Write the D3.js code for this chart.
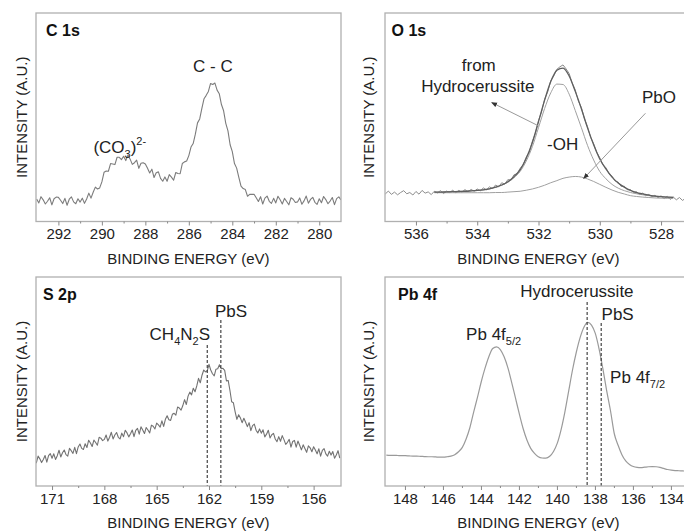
<!DOCTYPE html>
<html>
<head>
<meta charset="utf-8">
<script src="https://cdn.jsdelivr.net/npm/d3@7"></script>
<style>
body{margin:0;background:#fff;}
svg{display:block;font-family:"Liberation Sans",Arial,sans-serif;}
</style>
</head>
<body>
<script>
///// spectra (intensity in arbitrary units, 0-100 of frame height) /////
var c1sStart = 293.0, c1sStep = 0.1;
var c1sIntensity = [
  10.8, 8.9, 11.9, 10.4, 8.4, 9.7, 11.4, 8.0, 10.9, 11.7,
  11.6, 10.2, 8.6, 11.1, 7.8, 10.7, 11.8, 9.4, 8.5, 10.9,
  9.3, 11.2, 8.7, 10.8, 13.6, 11.2, 14.0, 16.5, 15.6, 16.1,
  19.0, 23.6, 24.2, 24.1, 27.8, 27.6, 27.3, 30.8, 30.8, 29.7,
  31.3, 29.2, 31.9, 29.9, 27.4, 28.2, 29.4, 25.5, 27.9, 28.2,
  27.6, 25.5, 23.3, 25.1, 21.1, 23.4, 23.8, 20.7, 19.3, 21.4,
  19.3, 22.5, 21.3, 19.8, 23.5, 23.0, 22.9, 27.8, 28.6, 29.0,
  31.6, 35.7, 37.4, 41.9, 47.3, 49.2, 54.3, 58.9, 60.5, 62.4,
  66.2, 65.7, 66.4, 63.0, 61.3, 56.1, 53.1, 47.1, 43.5, 36.8,
  33.5, 27.8, 25.6, 21.2, 17.0, 15.8, 15.3, 12.1, 13.0, 13.0,
  13.1, 11.4, 9.6, 11.9, 8.4, 11.2, 12.2, 9.7, 8.7, 11.1,
  8.9, 12.1, 10.4, 8.4, 11.1, 9.6, 8.0, 11.4, 10.7, 9.1,
  9.4, 11.3, 8.3, 9.9, 12.2, 8.8, 10.6, 11.6, 9.2, 8.2,
  10.9, 9.0, 12.0, 10.5, 8.5, 9.8, 11.5, 8.1, 11.0, 11.8,
  10.4
];

var o1sStart = 537.0, o1sStep = 0.1;
var o1sIntensity = [
  13.2, 14.6, 13.0, 14.1, 12.8, 13.9, 14.8, 13.3, 13.9, 12.7,
  14.4, 13.1, 14.9, 13.6, 14.2, 12.9, 14.5, 13.7, 14.8, 13.4,
  14.6, 13.9, 15.0, 13.8, 14.9, 14.0, 15.3, 14.2, 15.4, 14.5,
  15.6, 14.7, 16.1, 15.2, 16.6, 15.8, 17.5, 16.6, 18.6, 17.9,
  20.1, 19.8, 22.4, 22.9, 25.5, 27.1, 30.9, 33.2, 38.4, 42.3,
  48.4, 52.6, 58.7, 62.1, 67.5, 69.8, 73.0, 74.2, 75.1, 73.2,
  71.0, 66.4, 63.1, 57.8, 54.6, 49.2, 45.5, 40.4, 37.3, 33.2,
  30.6, 27.3, 25.8, 22.9, 21.8, 19.4, 18.9, 16.8, 16.9, 15.2,
  15.3, 13.9, 14.3, 12.9, 13.6, 12.3, 13.0, 11.8, 12.6, 11.4,
  12.3, 11.0, 12.1, 10.6, 11.7, 10.4, 11.5, 10.1, 11.2
];

// fitted curves of the O 1s peak
var o1sFitStart = 535.4, o1sFitStep = 0.2;
var o1sEnvelope = [
  14.1, 14.1, 14.2, 14.3, 14.4, 14.5, 14.7, 14.9, 15.2, 15.7,
  16.5, 17.5, 19.1, 21.5, 24.8, 30.3, 37.9, 47.9, 58.2, 67.1,
  72.5, 73.6, 69.8, 62.4, 54.1, 44.9, 36.8, 30.0, 25.2, 21.3,
  18.5, 16.5, 14.9, 13.9, 13.2, 12.6, 12.2, 11.9, 11.7, 11.6
];
var o1sHydroxide = [
  14.1, 14.1, 14.2, 14.3, 14.4, 14.5, 14.7, 14.9, 15.2, 15.7,
  16.4, 17.4, 18.8, 21.0, 24.0, 29.0, 35.9, 45.0, 54.2, 61.7,
  65.9, 65.7, 61.1, 53.2, 45.0, 36.5, 29.5, 24.0, 20.5, 17.8,
  16.0, 14.8, 13.9, 13.3, 12.8, 12.4, 12.1, 11.9, 11.7, 11.6
];
var o1sPbO = [
  13.8, 13.8, 13.8, 13.8, 13.8, 13.8, 13.8, 13.8, 13.8, 13.8,
  13.9, 13.9, 14.1, 14.3, 14.5, 15.0, 15.6, 16.4, 17.4, 18.6,
  19.6, 20.7, 21.3, 21.6, 21.3, 20.4, 19.2, 17.8, 16.4, 15.1,
  14.0, 13.2, 12.4, 12.0, 11.7, 11.5, 11.3, 11.2, 11.1, 11.1
];

var s2pStart = 172.0, s2pStep = 0.1;
var s2pIntensity = [
  12.8, 11.1, 14.3, 13.0, 11.2, 12.7, 14.6, 11.4, 14.5, 15.5,
  13.3, 15.4, 12.7, 14.5, 17.1, 13.9, 15.9, 17.2, 15.0, 14.3,
  18.0, 16.9, 15.6, 18.5, 15.5, 18.7, 20.1, 18.0, 17.5, 20.2,
  18.4, 21.9, 20.6, 18.9, 22.0, 20.8, 19.5, 23.3, 22.9, 21.7,
  22.3, 24.4, 21.5, 23.3, 25.7, 22.5, 24.4, 25.6, 23.3, 22.5,
  25.3, 23.6, 26.7, 25.4, 23.5, 25.0, 26.8, 23.6, 26.6, 27.6,
  24.8, 28.3, 26.8, 25.1, 28.0, 26.8, 25.4, 29.1, 28.6, 27.3,
  30.1, 29.2, 28.2, 31.2, 28.5, 31.9, 33.6, 31.7, 31.4, 34.3,
  34.8, 33.9, 37.8, 37.3, 36.3, 38.5, 41.3, 39.0, 43.0, 44.9,
  43.6, 46.8, 45.1, 47.9, 51.5, 49.4, 53.0, 55.5, 54.6, 55.1,
  58.2, 55.5, 53.7, 52.7, 55.9, 56.1, 58.0, 56.1, 56.3, 55.3,
  50.3, 50.5, 45.8, 40.3, 39.8, 35.5, 31.9, 34.1, 32.6, 30.3,
  32.4, 30.5, 28.4, 30.3, 26.5, 28.9, 29.6, 26.7, 25.4, 27.3,
  25.3, 26.9, 23.5, 24.8, 26.7, 23.0, 24.5, 25.2, 22.5, 21.2,
  23.6, 21.4, 24.1, 22.2, 19.9, 20.9, 22.3, 18.6, 21.3, 21.8,
  18.6, 21.5, 19.5, 17.3, 19.7, 17.9, 16.1, 19.2, 18.3, 16.4,
  18.8, 17.2, 15.4, 17.8, 14.3, 17.0, 17.9, 15.4, 14.3, 16.6,
  14.8, 16.5, 13.3, 14.8, 16.9, 13.3
];

var pb4fStart = 148.98, pb4fStep = 0.2;
var pb4fIntensity = [
  14.8, 14.7, 14.7, 14.6, 14.5, 14.5, 14.4, 14.3, 14.3, 14.2,
  14.1, 14.0, 14.0, 13.9, 13.8, 13.8, 14.0, 14.3, 15.0, 16.4,
  18.5, 22.5, 28.0, 35.5, 42.5, 50.0, 56.5, 62.0, 65.8, 66.6,
  65.3, 61.8, 56.5, 49.5, 42.0, 34.5, 27.5, 22.0, 18.0, 15.6,
  14.0, 13.4, 13.3, 14.2, 16.5, 20.5, 27.0, 35.5, 45.5, 55.5,
  64.0, 71.0, 76.0, 78.3, 77.0, 73.0, 65.5, 56.0, 45.5, 36.0,
  25.0, 19.5, 15.0, 12.0, 10.3, 9.3, 8.9, 8.8, 9.0, 9.2,
  9.3, 9.2, 8.9, 8.4, 7.9, 7.6, 7.4, 7.3, 7.2, 7.1
];

///// axes /////
var c1sTicks = [292, 290, 288, 286, 284, 282, 280];
var c1sMinor = [291, 289, 287, 285, 283, 281];
var o1sTicks = [536, 534, 532, 530, 528];
var o1sMinor = [535, 533, 531, 529];
var s2pTicks = [171, 168, 165, 162, 159, 156];
var s2pMinor = [169.5, 166.5, 163.5, 160.5, 157.5];
var pb4fTicks = [148, 146, 144, 142, 140, 138, 136, 134];
var pb4fMinor = [147, 145, 143, 141, 139, 137, 135];

// reference energies marked with dashed lines
var s2pMarkers = [162.1, 161.32];
var pb4fMarkers = [138.41, 137.67];

var width = 684, height = 531;
var svg = d3.select("body").append("svg").attr("width", width).attr("height", height);
var defs = svg.append("defs");
defs.append("marker").attr("id", "arrow")
  .attr("viewBox", "0 0 6 6").attr("refX", 5).attr("refY", 3)
  .attr("markerWidth", 6).attr("markerHeight", 6).attr("orient", "auto")
  .append("path").attr("d", "M0,0.6L6,3L0,5.4z").attr("fill", "#333");

function toPoints(start, step, vals) {
  return vals.map(function (v, i) { return [start - i * step, v]; });
}

function label(g, xp, yp, anchor, parts) {
  var t = g.append("text").attr("x", xp).attr("y", yp)
    .attr("text-anchor", anchor).attr("font-size", 17).attr("fill", "#222");
  var shift = 0;
  parts.forEach(function (pt) {
    var target = pt[1] === "sub" ? 5 : pt[1] === "sup" ? -8 : 0;
    t.append("tspan").attr("dy", target - shift).attr("font-size", pt[1] ? 11 : 17).text(pt[0]);
    shift = target;
  });
  return t;
}

function drawPanel(p) {
  var x = d3.scaleLinear().domain(p.domain).range([p.left, p.right]);
  var y = d3.scaleLinear().domain([0, 100]).range([p.bottom, p.top]);
  var g = svg.append("g");

  defs.append("clipPath").attr("id", "clip-" + p.id).append("rect")
    .attr("x", p.left).attr("y", p.top).attr("width", p.right - p.left).attr("height", p.bottom - p.top);

  var line = d3.line().x(function (d) { return x(d[0]); }).y(function (d) { return y(d[1]); });
  var plot = g.append("g").attr("clip-path", "url(#clip-" + p.id + ")");
  p.series.forEach(function (s) {
    plot.append("path").datum(s.points)
      .attr("fill", "none").attr("stroke", s.color).attr("stroke-width", s.width)
      .attr("stroke-linejoin", "round")
      .attr("d", line.curve(s.smooth ? d3.curveMonotoneX : d3.curveLinear));
  });

  (p.markers || []).forEach(function (m, i) {
    g.append("line")
      .attr("x1", x(m)).attr("x2", x(m))
      .attr("y1", y(p.markerTops[i])).attr("y2", p.bottom)
      .attr("stroke", "#333").attr("stroke-width", 1.1).attr("stroke-dasharray", "3,2");
  });

  // frame
  g.append("rect").attr("x", p.left).attr("y", p.top)
    .attr("width", p.right - p.left).attr("height", p.bottom - p.top)
    .attr("fill", "none").attr("stroke", "#b0b0b0").attr("stroke-width", 1.3);

  var ax = g.append("g").attr("transform", "translate(0," + p.bottom + ")")
    .call(d3.axisBottom(x).tickValues(p.ticks).tickSize(4).tickPadding(3).tickFormat(d3.format("d")));
  ax.select(".domain").remove();
  ax.attr("font-size", 15).attr("font-family", null);
  ax.selectAll("text").attr("fill", "#222");
  ax.selectAll("line").attr("stroke", "#888");
  var mx = g.append("g").attr("transform", "translate(0," + p.bottom + ")")
    .call(d3.axisBottom(x).tickValues(p.minor).tickSize(2).tickFormat(""));
  mx.select(".domain").remove();
  mx.selectAll("line").attr("stroke", "#888");

  g.append("text").attr("x", p.titleX).attr("y", p.bottom + 42)
    .attr("text-anchor", "middle").attr("font-size", 15).attr("fill", "#222")
    .text("BINDING ENERGY (eV)");
  g.append("text")
    .attr("transform", "translate(" + p.yTitleX + "," + (p.top + p.bottom) / 2 + ") rotate(-90)")
    .attr("text-anchor", "middle").attr("dy", "0.35em")
    .attr("font-size", 15).attr("fill", "#222")
    .text("INTENSITY (A.U.)");
  g.append("text").attr("x", p.left + p.nameDx).attr("y", p.top + 23)
    .attr("font-size", 16).attr("font-weight", "bold").attr("fill", "#111")
    .text(p.name);

  p.annotate(g, x, y);
}

var panels = [
  {
    id: "c1s", name: "C 1s", left: 36, right: 341, top: 13, bottom: 221.5,
    domain: [293.03, 279.0], ticks: c1sTicks, minor: c1sMinor,
    titleX: 188.5, yTitleX: 21.7, nameDx: 10,
    series: [{ points: toPoints(c1sStart, c1sStep, c1sIntensity), color: "#7c7c7c", width: 1.1 }],
    annotate: function (g, x, y) {
      label(g, x(284.89), y(71.8), "middle", [["C - C", ""]]);
      label(g, x(290.39), y(32.7), "start", [["(CO", ""], ["3", "sub"], [")", ""], ["2-", "sup"]]);
    }
  },
  {
    id: "o1s", name: "O 1s", left: 385, right: 692, top: 13, bottom: 221.5,
    domain: [537.01, 526.99], ticks: o1sTicks, minor: o1sMinor,
    titleX: 538.5, yTitleX: 368.7, nameDx: 6.5,
    series: [
      { points: toPoints(o1sStart, o1sStep, o1sIntensity), color: "#8c8c8c", width: 1 },
      { points: toPoints(o1sFitStart, o1sFitStep, o1sPbO), color: "#a0a0a0", width: 1, smooth: true },
      { points: toPoints(o1sFitStart, o1sFitStep, o1sHydroxide), color: "#a0a0a0", width: 1, smooth: true },
      { points: toPoints(o1sFitStart, o1sFitStep, o1sEnvelope), color: "#5e5e5e", width: 1.3, smooth: true }
    ],
    annotate: function (g, x, y) {
      label(g, x(533.95), y(72.3), "middle", [["from", ""]]);
      label(g, x(533.98), y(62.3), "middle", [["Hydrocerussite", ""]]);
      label(g, x(531.21), y(34.3), "middle", [["-OH", ""]]);
      label(g, x(528.07), y(56.7), "middle", [["PbO", ""]]);
      g.append("line").attr("x1", x(531.99)).attr("y1", y(45.8)).attr("x2", x(533.52)).attr("y2", y(57.0))
        .attr("stroke", "#999").attr("stroke-width", 1).attr("marker-end", "url(#arrow)");
      g.append("line").attr("x1", x(528.51)).attr("y1", y(51.9)).attr("x2", x(530.52)).attr("y2", y(20.7))
        .attr("stroke", "#999").attr("stroke-width", 1).attr("marker-end", "url(#arrow)");
    }
  },
  {
    id: "s2p", name: "S 2p", left: 36, right: 341, top: 277, bottom: 486,
    domain: [171.92, 154.43], ticks: s2pTicks, minor: s2pMinor,
    titleX: 188.5, yTitleX: 21.7, nameDx: 7,
    markers: s2pMarkers, markerTops: [67.5, 79.4],
    series: [{ points: toPoints(s2pStart, s2pStep, s2pIntensity), color: "#727272", width: 1.1 }],
    annotate: function (g, x, y) {
      label(g, x(161.94), y(69.9), "end", [["CH", ""], ["4", "sub"], ["N", ""], ["2", "sub"], ["S", ""]]);
      label(g, x(161.66), y(81), "start", [["PbS", ""]]);
    }
  },
  {
    id: "pb4f", name: "Pb 4f", left: 385, right: 692, top: 277, bottom: 486,
    domain: [149.05, 132.89], ticks: pb4fTicks, minor: pb4fMinor,
    titleX: 538.5, yTitleX: 368.7, nameDx: 13,
    markers: pb4fMarkers, markerTops: [88, 78],
    series: [{ points: toPoints(pb4fStart, pb4fStep, pb4fIntensity), color: "#9a9a9a", width: 1.2, smooth: true }],
    annotate: function (g, x, y) {
      label(g, x(138.95), y(90.6), "middle", [["Hydrocerussite", ""]]);
      label(g, x(137.65), y(79.4), "start", [["PbS", ""]]);
      label(g, x(144.78), y(69.9), "start", [["Pb 4f", ""], ["5/2", "sub"]]);
      label(g, x(137.2), y(49.1), "start", [["Pb 4f", ""], ["7/2", "sub"]]);
    }
  }
];

panels.forEach(drawPanel);
</script>
</body>
</html>
